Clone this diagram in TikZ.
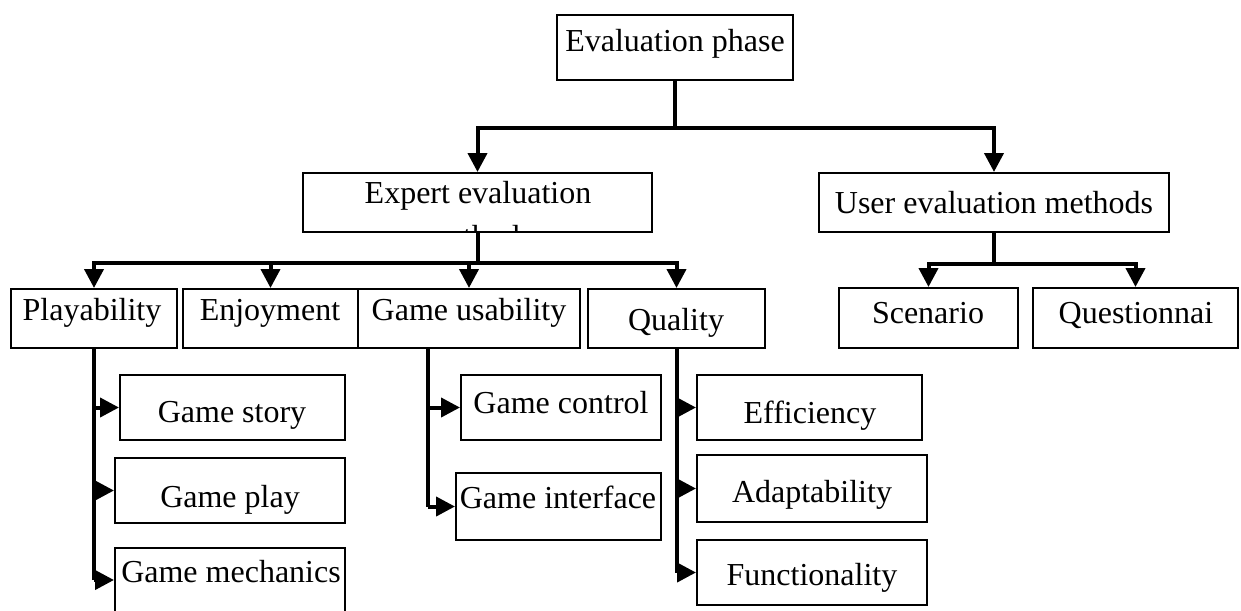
\documentclass[tikz,border=0pt]{standalone}
\usepackage{fontspec}
\setmainfont{Liberation Serif}
\usetikzlibrary{arrows.meta,fit}
\begin{document}
\begin{tikzpicture}[x=1pt,y=-1pt,
  box/.style={draw, line width=2pt, inner sep=0pt},
  txt/.style={anchor=base, font=\fontsize{32}{36}\selectfont, inner sep=0pt},
  conn/.style={line width=4pt},
  arr/.style={line width=4pt, -{Triangle[width=19pt,length=19pt]}},
]
\useasboundingbox (0,0) rectangle (1241,610);
\clip (0,0) rectangle (1241,610);
\fill[white] (0,0) rectangle (1241,610);

% boxes
\node[box, fit={(557,15) (793,80)}] (ev) {};
\node[box, fit={(303,173) (652,232)}] (ex) {};
\node[box, fit={(819,173) (1169,232)}] (us) {};
\node[box, fit={(11,289) (177,348)}] (pl) {};
\node[box, fit={(183,289) (358,348)}] (en) {};
\node[box, fit={(358,289) (580,348)}] (gu) {};
\node[box, fit={(588,289) (765,348)}] (qu) {};
\node[box, fit={(839,288) (1018,348)}] (sc) {};
\node[box, fit={(1033,288) (1238,348)}] (qn) {};
\node[box, fit={(120,375) (345,440)}] (gs) {};
\node[box, fit={(115,458) (345,523)}] (gp) {};
\node[box, fit={(115,548) (345,612)}] (gm) {};
\node[box, fit={(461,375) (661,440)}] (gc) {};
\node[box, fit={(456,473) (661,540)}] (gi) {};
\node[box, fit={(697,375) (922,440)}] (ef) {};
\node[box, fit={(697,455) (927,522)}] (ad) {};
\node[box, fit={(697,540) (927,605)}] (fu) {};

% texts
\node[txt] (evt) at (675,52) {Evaluation phase};
\node[txt] (ext) at (478,203) {Expert evaluation};
\begin{scope}
  \clip (303,173) rectangle (652,231);
  \node[txt] (exm) at (478,247) {methods};
\end{scope}
\node[txt] (ust) at (994,213) {User evaluation methods};
\node[txt] (plt) at (92,320) {Playability};
\node[txt] (ent) at (270,320) {Enjoyment};
\node[txt] (gut) at (469,320) {Game usability};
\node[txt] (qut) at (676,330) {Quality};
\node[txt] (sct) at (928,323) {Scenario};
\node[txt] (qnt) at (1136,323) {Questionnai};
\node[txt] (gst) at (232,422) {Game story};
\node[txt] (gpt) at (230,507) {Game play};
\node[txt] (gmt) at (231,582) {Game mechanics};
\node[txt] (gct) at (561,413) {Game control};
\node[txt] (git) at (558,508) {Game interface};
\node[txt] (eft) at (810,423) {Efficiency};
\node[txt] (adt) at (812,502) {Adaptability};
\node[txt] (fut) at (812,585) {Functionality};

% connectors: level 1
\draw[arr] (ev.south) -- ++(0,47) -| (ex.north);
\draw[arr] (ev.south) -- ++(0,47) -| (us.north);
% expert children
\draw[arr] (ex.south) -- ++(0,30) -| (pl.north);
\draw[arr] (ex.south) -- ++(0,30) -| (en.north);
\draw[arr] (ex.south) -- ++(0,30) -| (gu.north);
\draw[arr] (ex.south) -- ++(0,30) -| (qu.north);
% user children
\draw[arr] (us.south) -- ++(0,31) -| (sc.north);
\draw[arr] (us.south) -- ++(0,31) -| (qn.north);
% playability
\draw[conn] (pl.south) -- (pl.south |- gm.west);
\draw[arr] (pl.south |- gs.west) -- (gs.west);
\draw[arr] (pl.south |- gp.west) -- (gp.west);
\draw[arr] (pl.south |- gm.west) -- (gm.west);
% game usability
\draw[conn] ([xshift=-41pt]gu.south) -- ([xshift=-41pt]gu.south |- gi.west);
\draw[arr] ([xshift=-41pt]gu.south |- gc.west) -- (gc.west);
\draw[arr] ([xshift=-41pt]gu.south |- gi.west) -- (gi.west);
% quality
\draw[conn] (qu.south) -- (qu.south |- fu.west);
\draw[arr] (qu.south |- ef.west) -- (ef.west);
\draw[arr] (qu.south |- ad.west) -- (ad.west);
\draw[arr] (qu.south |- fu.west) -- (fu.west);
\end{tikzpicture}
\end{document}
